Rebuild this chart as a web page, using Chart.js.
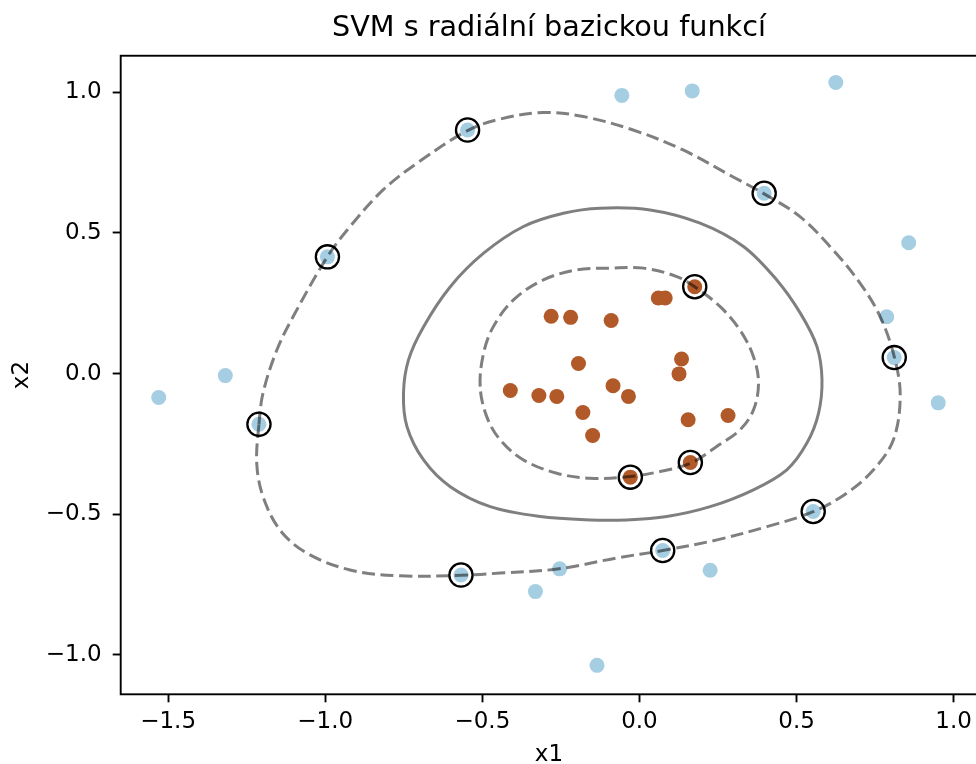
<!DOCTYPE html>
<html>
<head>
<meta charset="utf-8">
<script src="https://cdn.jsdelivr.net/npm/chart.js@4/dist/chart.umd.min.js"></script>
<style>
html,body{margin:0;padding:0;overflow:hidden;background:#fff;}
#wrap{width:980px;height:764px;position:relative;}
</style>
</head>
<body>
<div id="wrap"><canvas id="c" width="980" height="764"></canvas></div>
<script>
// Class 0 (light blue) samples
const blueX = [-1.530,-1.318,-1.211,-0.993,-0.547,-0.056,0.168,0.625,0.397,0.857,0.787,0.811,0.951,0.553,0.225,0.074,-0.254,-0.331,-0.135,-0.568];
const blueY = [-0.085,-0.007,-0.180,0.415,0.866,0.989,1.005,1.035,0.641,0.465,0.202,0.057,-0.104,-0.490,-0.699,-0.629,-0.694,-0.775,-1.037,-0.716];
// Class 1 (brown) samples
const brownX = [0.176,0.060,0.082,-0.281,-0.219,-0.090,0.134,0.126,-0.194,-0.411,-0.320,-0.263,-0.084,-0.035,-0.180,-0.149,0.155,0.282,-0.029,0.162];
const brownY = [0.309,0.269,0.269,0.204,0.200,0.189,0.052,-0.001,0.036,-0.060,-0.078,-0.081,-0.043,-0.081,-0.138,-0.220,-0.164,-0.149,-0.368,-0.316];
// Support vectors
const svX = [-1.211,-0.993,-0.547,0.397,0.811,0.553,0.074,-0.568,0.176,-0.029,0.162];
const svY = [-0.180,0.415,0.866,0.641,0.057,-0.490,-0.629,-0.716,0.309,-0.368,-0.316];
// Decision function contour = -1 (outer, dashed, closed)
const outerX = [-1.211,-1.198,-1.154,-1.102,-0.994,-0.921,-0.816,-0.708,-0.547,-0.443,-0.306,-0.179,-0.020,0.139,0.297,0.397,0.511,0.616,0.702,0.766,0.812,0.830,0.808,0.745,0.661,0.553,0.406,0.247,0.074,-0.071,-0.256,-0.443,-0.568,-0.762,-0.921,-1.059,-1.144,-1.198,-1.218];
const outerY = [-0.181,-0.069,0.084,0.203,0.414,0.523,0.653,0.748,0.864,0.905,0.928,0.914,0.866,0.795,0.700,0.639,0.558,0.440,0.322,0.203,0.056,-0.082,-0.236,-0.342,-0.424,-0.491,-0.544,-0.591,-0.629,-0.655,-0.694,-0.709,-0.717,-0.719,-0.698,-0.638,-0.556,-0.437,-0.319];
// Decision function contour = 0 (solid, closed)
const midX = [-0.751,-0.735,-0.687,-0.602,-0.496,-0.369,-0.242,-0.125,0.034,0.193,0.331,0.437,0.512,0.565,0.581,0.570,0.533,0.469,0.363,0.225,0.087,-0.040,-0.157,-0.316,-0.475,-0.602,-0.687,-0.740];
const midY = [-0.070,0.049,0.167,0.309,0.428,0.523,0.570,0.588,0.582,0.535,0.452,0.333,0.215,0.096,-0.022,-0.141,-0.247,-0.342,-0.413,-0.473,-0.508,-0.520,-0.520,-0.508,-0.473,-0.402,-0.307,-0.188];
// Decision function contour = +1 (inner, dashed, closed)
const innerX = [-0.507,-0.496,-0.465,-0.401,-0.306,-0.199,-0.093,0.013,0.119,0.178,0.257,0.320,0.363,0.379,0.363,0.320,0.246,0.164,0.066,-0.030,-0.157,-0.263,-0.369,-0.443,-0.486];
const innerY = [-0.046,0.073,0.167,0.262,0.333,0.369,0.375,0.375,0.345,0.307,0.238,0.155,0.060,-0.034,-0.129,-0.200,-0.259,-0.318,-0.348,-0.366,-0.372,-0.354,-0.307,-0.236,-0.153];

const xTickValues = [-1.5,-1.0,-0.5,0.0,0.5,1.0];
const yTickValues = [-1.0,-0.5,0.0,0.5,1.0];

const pts = (xs, ys) => xs.map((x, i) => ({x, y: ys[i]}));
const FONT = 'DejaVu Sans';
const fmt = v => (Math.abs(v) < 1e-9 ? 0 : v).toFixed(1).replace('-', '\u2212');

const lineDs = (data, dashed) => ({
  type: 'scatter', data, showLine: true, pointRadius: 0, pointHoverRadius: 0,
  borderColor: 'rgba(0,0,0,0.5)', borderWidth: 3, borderDash: dashed ? [13, 5.6] : [],
  tension: 0.35, fill: false, order: 2, closedLoop: true
});

// close contour lines smoothly (same mechanism Chart.js uses for radar lines)
const closeContours = {
  id: 'closeContours',
  afterDatasetsUpdate(chart) {
    chart.data.datasets.forEach((ds, i) => {
      if (!ds.closedLoop) return;
      const line = chart.getDatasetMeta(i).dataset;
      if (!line) return;
      line._loop = true; line._fullLoop = true; line._pointsUpdated = false;
      delete line._segments; delete line._path;
    });
  }
};

const spines = {
  id: 'spines',
  afterDatasetsDraw(chart) {
    const a = chart.chartArea, ctx = chart.ctx;
    ctx.save();
    ctx.strokeStyle = '#000'; ctx.lineWidth = 1.9;
    ctx.strokeRect(a.left, a.top, a.right - a.left, a.bottom - a.top);
    ctx.restore();
  }
};

new Chart(document.getElementById('c'), {
  type: 'scatter',
  data: {
    datasets: [
      { data: pts(svX, svY), pointRadius: 11.6, pointHoverRadius: 11.6, pointBorderWidth: 2.3,
        pointBorderColor: '#000', pointBackgroundColor: 'rgba(0,0,0,0)', order: 1 },
      lineDs(pts(outerX, outerY), true),
      lineDs(pts(midX, midY), false),
      lineDs(pts(innerX, innerY), true),
      { data: pts(blueX, blueY), pointRadius: 7.5, pointHoverRadius: 7.5, pointBorderWidth: 0,
        pointBackgroundColor: '#a6cee3', order: 3 },
      { data: pts(brownX, brownY), pointRadius: 7.5, pointHoverRadius: 7.5, pointBorderWidth: 0,
        pointBackgroundColor: '#b15928', order: 3 }
    ]
  },
  options: {
    responsive: false,
    devicePixelRatio: 1,
    animation: false,
    events: [],
    layout: { autoPadding: false, padding: { left: 0, right: 2.8, top: 0, bottom: 0 } },
    plugins: {
      legend: { display: false },
      tooltip: { enabled: false },
      title: {
        display: true, text: 'SVM s radiální bazickou funkcí', color: '#000', fullSize: false,
        font: { family: FONT, size: 28.7, weight: 'normal', lineHeight: 1.2 },
        padding: { top: 11.6, bottom: 9.7 }
      }
    },
    scales: {
      x: {
        type: 'linear', min: -1.651, max: 1.075,
        afterFit: s => { s.height = 69.7; s.paddingLeft = 0; s.paddingRight = 0; },
        afterBuildTicks: s => { s.ticks = xTickValues.map(v => ({value: v})); },
        ticks: { callback: fmt, color: '#000', font: { family: FONT, size: 23 }, padding: 6, maxRotation: 0, autoSkip: false, includeBounds: false },
        grid: { drawOnChartArea: false, drawTicks: true, tickLength: 8, tickWidth: 1.9, tickColor: '#000', color: 'rgba(0,0,0,0)' },
        border: { display: false },
        title: { display: true, text: 'x1', color: '#000', font: { family: FONT, size: 23, lineHeight: 0.8 }, padding: 0 }
      },
      y: {
        type: 'linear', min: -1.140, max: 1.130,
        afterFit: s => { s.width = 120.7; s.paddingTop = 0; s.paddingBottom = 0; },
        afterBuildTicks: s => { s.ticks = yTickValues.map(v => ({value: v})); },
        ticks: { callback: fmt, color: '#000', font: { family: FONT, size: 23 }, padding: 11, autoSkip: false, includeBounds: false },
        grid: { drawOnChartArea: false, drawTicks: true, tickLength: 8, tickWidth: 1.9, tickColor: '#000', color: 'rgba(0,0,0,0)' },
        border: { display: false },
        title: { display: true, text: 'x2', color: '#000', font: { family: FONT, size: 23, lineHeight: 1.2 }, padding: { top: 8, bottom: 0 } }
      }
    }
  },
  plugins: [closeContours, spines]
});
</script>
</body>
</html>
